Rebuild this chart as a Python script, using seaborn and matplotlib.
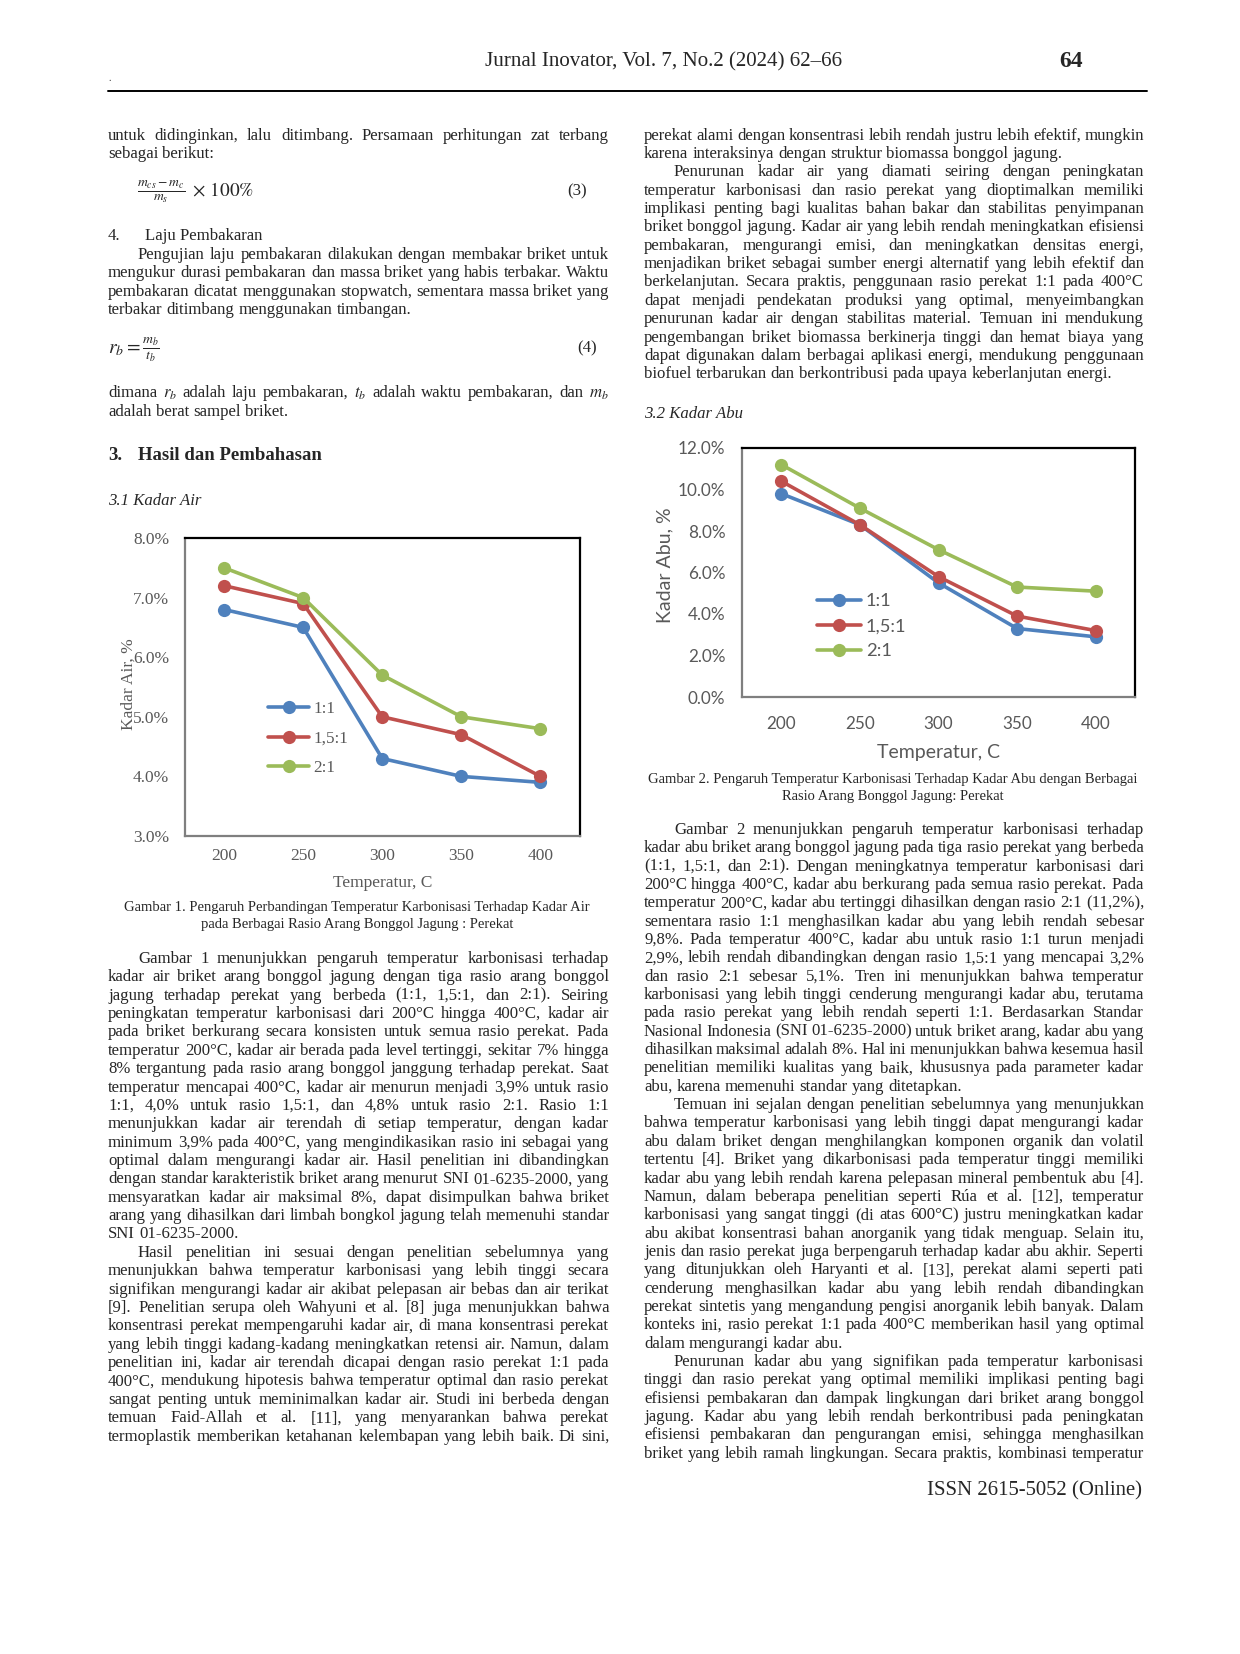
import matplotlib
matplotlib.use('Agg')
import matplotlib.pyplot as plt
from matplotlib.lines import Line2D
from matplotlib.ticker import FuncFormatter
import seaborn as sns
import pandas as pd

# DATA GRAFIK
suhu = ['200', '250', '300', '350', '400']
rasio = ['1:1', '1,5:1', '2:1']
air_1_1 = [6.8, 6.5, 4.3, 4.0, 3.9]
air_15_1 = [7.2, 6.9, 5.0, 4.7, 4.0]
air_2_1 = [7.5, 7.0, 5.7, 5.0, 4.8]
abu_1_1 = [9.8, 8.3, 5.5, 3.3, 2.9]
abu_15_1 = [10.4, 8.3, 5.8, 3.9, 3.2]
abu_2_1 = [11.2, 9.1, 7.1, 5.3, 5.1]
ticks_air = [3, 4, 5, 6, 7, 8]
ticks_abu = [0, 2, 4, 6, 8, 10, 12]
warna = ['#4F81BD', '#C0504D', '#9BBB59']

# TEKS HALAMAN
kiri_awal = ['untuk didinginkan, lalu ditimbang. Persamaan perhitungan zat terbang',
             'sebagai berikut:']
kiri_laju = ['Pengujian laju pembakaran dilakukan dengan membakar briket untuk',
             'mengukur durasi pembakaran dan massa briket yang habis terbakar. Waktu',
             'pembakaran dicatat menggunakan stopwatch, sementara massa briket yang',
             'terbakar ditimbang menggunakan timbangan.']
kiri_dimana = ['dimana $r_b$ adalah laju pembakaran, $t_b$ adalah waktu pembakaran, dan $m_b$',
               'adalah berat sampel briket.']
kiri_p1 = ['Gambar 1 menunjukkan pengaruh temperatur karbonisasi terhadap',
           'kadar air briket arang bonggol jagung dengan tiga rasio arang bonggol',
           'jagung terhadap perekat yang berbeda (1:1, 1,5:1, dan 2:1). Seiring',
           'peningkatan temperatur karbonisasi dari 200°C hingga 400°C, kadar air',
           'pada briket berkurang secara konsisten untuk semua rasio perekat. Pada',
           'temperatur 200°C, kadar air berada pada level tertinggi, sekitar 7% hingga',
           '8% tergantung pada rasio arang bonggol janggung terhadap perekat. Saat',
           'temperatur mencapai 400°C, kadar air menurun menjadi 3,9% untuk rasio',
           '1:1, 4,0% untuk rasio 1,5:1, dan 4,8% untuk rasio 2:1. Rasio 1:1',
           'menunjukkan kadar air terendah di setiap temperatur, dengan kadar',
           'minimum 3,9% pada 400°C, yang mengindikasikan rasio ini sebagai yang',
           'optimal dalam mengurangi kadar air. Hasil penelitian ini dibandingkan',
           'dengan standar karakteristik briket arang menurut SNI 01-6235-2000, yang',
           'mensyaratkan kadar air maksimal 8%, dapat disimpulkan bahwa briket',
           'arang yang dihasilkan dari limbah bongkol jagung telah memenuhi standar',
           'SNI 01-6235-2000.']
kiri_p2 = ['Hasil penelitian ini sesuai dengan penelitian sebelumnya yang',
           'menunjukkan bahwa temperatur karbonisasi yang lebih tinggi secara',
           'signifikan mengurangi kadar air akibat pelepasan air bebas dan air terikat',
           '[9]. Penelitian serupa oleh Wahyuni et al. [8] juga menunjukkan bahwa',
           'konsentrasi perekat mempengaruhi kadar air, di mana konsentrasi perekat',
           'yang lebih tinggi kadang-kadang meningkatkan retensi air. Namun, dalam',
           'penelitian ini, kadar air terendah dicapai dengan rasio perekat 1:1 pada',
           '400°C, mendukung hipotesis bahwa temperatur optimal dan rasio perekat',
           'sangat penting untuk meminimalkan kadar air. Studi ini berbeda dengan',
           'temuan Faid-Allah et al. [11], yang menyarankan bahwa perekat',
           'termoplastik memberikan ketahanan kelembapan yang lebih baik. Di sini,']
kanan_awal = ['perekat alami dengan konsentrasi lebih rendah justru lebih efektif, mungkin',
              'karena interaksinya dengan struktur biomassa bonggol jagung.']
kanan_p0 = ['Penurunan kadar air yang diamati seiring dengan peningkatan',
            'temperatur karbonisasi dan rasio perekat yang dioptimalkan memiliki',
            'implikasi penting bagi kualitas bahan bakar dan stabilitas penyimpanan',
            'briket bonggol jagung. Kadar air yang lebih rendah meningkatkan efisiensi',
            'pembakaran, mengurangi emisi, dan meningkatkan densitas energi,',
            'menjadikan briket sebagai sumber energi alternatif yang lebih efektif dan',
            'berkelanjutan. Secara praktis, penggunaan rasio perekat 1:1 pada 400°C',
            'dapat menjadi pendekatan produksi yang optimal, menyeimbangkan',
            'penurunan kadar air dengan stabilitas material. Temuan ini mendukung',
            'pengembangan briket biomassa berkinerja tinggi dan hemat biaya yang',
            'dapat digunakan dalam berbagai aplikasi energi, mendukung penggunaan',
            'biofuel terbarukan dan berkontribusi pada upaya keberlanjutan energi.']
kanan_p1 = ['Gambar 2 menunjukkan pengaruh temperatur karbonisasi terhadap',
            'kadar abu briket arang bonggol jagung pada tiga rasio perekat yang berbeda',
            '(1:1, 1,5:1, dan 2:1). Dengan meningkatnya temperatur karbonisasi dari',
            '200°C hingga 400°C, kadar abu berkurang pada semua rasio perekat. Pada',
            'temperatur 200°C, kadar abu tertinggi dihasilkan dengan rasio 2:1 (11,2%),',
            'sementara rasio 1:1 menghasilkan kadar abu yang lebih rendah sebesar',
            '9,8%. Pada temperatur 400°C, kadar abu untuk rasio 1:1 turun menjadi',
            '2,9%, lebih rendah dibandingkan dengan rasio 1,5:1 yang mencapai 3,2%',
            'dan rasio 2:1 sebesar 5,1%. Tren ini menunjukkan bahwa temperatur',
            'karbonisasi yang lebih tinggi cenderung mengurangi kadar abu, terutama',
            'pada rasio perekat yang lebih rendah seperti 1:1. Berdasarkan Standar',
            'Nasional Indonesia (SNI 01-6235-2000) untuk briket arang, kadar abu yang',
            'dihasilkan maksimal adalah 8%. Hal ini menunjukkan bahwa kesemua hasil',
            'penelitian memiliki kualitas yang baik, khususnya pada parameter kadar',
            'abu, karena memenuhi standar yang ditetapkan.']
kanan_p2 = ['Temuan ini sejalan dengan penelitian sebelumnya yang menunjukkan',
            'bahwa temperatur karbonisasi yang lebih tinggi dapat mengurangi kadar',
            'abu dalam briket dengan menghilangkan komponen organik dan volatil',
            'tertentu [4]. Briket yang dikarbonisasi pada temperatur tinggi memiliki',
            'kadar abu yang lebih rendah karena pelepasan mineral pembentuk abu [4].',
            'Namun, dalam beberapa penelitian seperti Rúa et al. [12], temperatur',
            'karbonisasi yang sangat tinggi (di atas 600°C) justru meningkatkan kadar',
            'abu akibat konsentrasi bahan anorganik yang tidak menguap. Selain itu,',
            'jenis dan rasio perekat juga berpengaruh terhadap kadar abu akhir. Seperti',
            'yang ditunjukkan oleh Haryanti et al. [13], perekat alami seperti pati',
            'cenderung menghasilkan kadar abu yang lebih rendah dibandingkan',
            'perekat sintetis yang mengandung pengisi anorganik lebih banyak. Dalam',
            'konteks ini, rasio perekat 1:1 pada 400°C memberikan hasil yang optimal',
            'dalam mengurangi kadar abu.']
kanan_p3 = ['Penurunan kadar abu yang signifikan pada temperatur karbonisasi',
            'tinggi dan rasio perekat yang optimal memiliki implikasi penting bagi',
            'efisiensi pembakaran dan dampak lingkungan dari briket arang bonggol',
            'jagung. Kadar abu yang lebih rendah berkontribusi pada peningkatan',
            'efisiensi pembakaran dan pengurangan emisi, sehingga menghasilkan',
            'briket yang lebih ramah lingkungan. Secara praktis, kombinasi temperatur']
caption1 = ['Gambar 1. Pengaruh Perbandingan Temperatur Karbonisasi Terhadap Kadar Air',
            'pada Berbagai Rasio Arang Bonggol Jagung : Perekat']
caption2 = ['Gambar 2. Pengaruh Temperatur Karbonisasi Terhadap Kadar Abu dengan Berbagai',
            'Rasio Arang Bonggol Jagung: Perekat']

SERIF = 'Liberation Serif'
SANS = 'Lato'
ABU = '#595959'

sns.set_style('white')
plt.rcParams['mathtext.fontset'] = 'stix'
plt.rcParams['font.family'] = SERIF

W, H = 1240, 1654
fig = plt.figure(figsize=(W / 100, H / 100), dpi=100)
fig.patch.set_facecolor('white')
renderer = fig.canvas.get_renderer()


def fx(x):
    return x / W


def fy(y):
    # posisi teks: sedikit koreksi vertikal terhadap halaman asli
    return 1 - (y * 1.0037 + 1) / H


def lebar(s, fs, family=SERIF, weight='normal'):
    t = fig.text(0, 0, s, fontsize=fs, family=family, weight=weight)
    w = t.get_window_extent(renderer).width
    t.remove()
    return w


def tulis(x, y, s, fs, ha='left', **kw):
    # y = tengah baris (piksel dari atas), digeser ke baseline
    off = 0.3 * fs * 100 / 72
    return fig.text(fx(x), fy(y + off), s, fontsize=fs, ha=ha, va='baseline', **kw)


def baris(x0, x1, y, line, fs, rata=True, indent=0):
    off = 0.3 * fs * 100 / 72
    kata = line.split()
    objs = [fig.text(0, fy(y + off), k, fontsize=fs, family=SERIF, va='baseline') for k in kata]
    lebar_kata = [o.get_window_extent(renderer).width for o in objs]
    mulai = x0 + indent
    if rata and len(kata) > 1:
        gap = (x1 - mulai - sum(lebar_kata)) / (len(kata) - 1)
    else:
        gap = fs * 0.25 * 100 / 72
    x = mulai
    for o, w in zip(objs, lebar_kata):
        o.set_x(fx(x))
        x += w + gap


def paragraf(x0, x1, y0, lines, fs, dy, indent=30, rata_akhir=False):
    for i, ln in enumerate(lines):
        akhir = i == len(lines) - 1
        baris(x0, x1, y0 + i * dy, ln, fs, rata=(not akhir) or rata_akhir,
              indent=indent if i == 0 else 0)


# UKURAN HURUF
KX0, KX1 = 108, 609
NX0, NX1 = 644, 1144
fs = 10 * (NX1 - NX0) / lebar('kadar abu yang lebih rendah karena pelepasan mineral pembentuk abu [4].', 10)
fs_cap = 10 * 470 / lebar(caption1[0], 10)
LS = 18.3

# HEADER
fs_head = 10 * 358 / lebar('Jurnal Inovator, Vol. 7, No.2 (2024) 62–66', 10)
tulis(664, 59, 'Jurnal Inovator, Vol. 7, No.2 (2024) 62–66', fs_head, ha='center', family=SERIF)
tulis(1071, 59, '64', 17, ha='center', family=SERIF, weight='bold')
tulis(108, 77, '.', 7, family=SERIF)
fig.add_artist(Line2D([fx(108), fx(1147)], [fy(90), fy(90)], transform=fig.transFigure,
                      color='black', lw=1.4))

# KOLOM KIRI
paragraf(KX0, KX1, 133, kiri_awal, fs, LS, indent=0)
tulis(137, 189, r'$\frac{m_{cs}-m_c}{m_s}\;\times\,100\%$', fs * 1.16, family=SERIF)
tulis(577, 189, '(3)', fs, ha='center', family=SERIF)
tulis(108, 233, '4.', fs, family=SERIF)
tulis(145, 233, 'Laju Pembakaran', fs, family=SERIF)
paragraf(KX0, KX1, 252, kiri_laju, fs, LS)
tulis(108, 345, r'$r_b=\frac{m_b}{t_b}$', fs * 1.17, family=SERIF)
tulis(587, 345, '(4)', fs, ha='center', family=SERIF)
paragraf(KX0, KX1, 390, kiri_dimana, fs, LS, indent=0)
tulis(108, 452, '3.', fs * 1.12, family=SERIF, weight='bold')
tulis(138, 452, 'Hasil dan Pembahasan', fs * 1.12, family=SERIF, weight='bold')
tulis(108, 497, '3.1 Kadar Air', fs, family=SERIF, style='italic')
for i, c in enumerate(caption1):
    tulis(357, 902 + i * 17, c, fs_cap, ha='center', family=SERIF)
paragraf(KX0, KX1, 953.4, kiri_p1, fs, LS)
paragraf(KX0, KX1, 953.4 + len(kiri_p1) * LS, kiri_p2, fs, LS, rata_akhir=True)

# KOLOM KANAN
paragraf(NX0, NX1, 133, kanan_awal, fs, LS, indent=0)
paragraf(NX0, NX1, 133 + 2 * LS, kanan_p0, fs, LS)
tulis(644, 410, '3.2 Kadar Abu', fs, family=SERIF, style='italic')
for i, c in enumerate(caption2):
    tulis(893, 775 + i * 17, c, fs_cap, ha='center', family=SERIF)
LS2 = 18.27
paragraf(NX0, NX1, 825, kanan_p1, fs, LS2)
paragraf(NX0, NX1, 825 + 15 * LS2, kanan_p2, fs, LS2)
paragraf(NX0, NX1, 825 + 29 * LS2, kanan_p3, fs, LS2, rata_akhir=True)

fs_issn = 10 * 216 / lebar('ISSN 2615-5052 (Online)', 10)
tulis(1142, 1483, 'ISSN 2615-5052 (Online)', fs_issn, ha='right', family=SERIF)


# GRAFIK
def grafik(kotak, nilai, ticks, fam, fs_tick, fs_lab, fs_leg, ylabel,
           pad_x, pad_y, pos_xlab, pos_ylab, pos_leg, spasi_leg):
    x0, x1, y0, y1 = kotak
    ax = fig.add_axes([x0 / W, 1 - y1 / H, (x1 - x0) / W, (y1 - y0) / H])
    df = pd.DataFrame({'Temperatur': suhu * len(rasio),
                       'Kadar': [v for seri in nilai for v in seri],
                       'Rasio': [r for r in rasio for _ in suhu]})
    sns.lineplot(data=df, x='Temperatur', y='Kadar', hue='Rasio', hue_order=rasio,
                 palette=warna, marker='o', markersize=9.5, markeredgewidth=0,
                 linewidth=2.6, sort=False, errorbar=None, legend=False, ax=ax)
    ax.set_xlim(-0.5, len(suhu) - 0.5)
    ax.set_ylim(ticks[0], ticks[-1])
    ax.set_yticks(ticks)
    ax.yaxis.set_major_formatter(FuncFormatter(lambda v, p: f'{v:.1f}%'))
    ax.set_facecolor('white')
    ax.grid(False)
    for s in ['top', 'right']:
        ax.spines[s].set_color('black')
        ax.spines[s].set_linewidth(1.6)
    for s in ['left', 'bottom']:
        ax.spines[s].set_color('#7f7f7f')
        ax.spines[s].set_linewidth(1.6)
    ax.tick_params(axis='x', length=0, pad=pad_x, labelsize=fs_tick, labelcolor=ABU)
    ax.tick_params(axis='y', length=0, pad=pad_y, labelsize=fs_tick, labelcolor=ABU)
    ax.set_xlabel('Temperatur, C', fontsize=fs_lab, color=ABU, family=fam)
    ax.set_ylabel(ylabel, fontsize=fs_lab, color=ABU, family=fam)
    ax.xaxis.label.set_va('center')
    ax.yaxis.label.set_va('center')
    ax.xaxis.set_label_coords(*pos_xlab)
    ax.yaxis.set_label_coords(*pos_ylab)
    leg = ax.legend(ax.lines[:len(rasio)], rasio, loc='center left', bbox_to_anchor=pos_leg,
                    frameon=False, borderpad=0, borderaxespad=0, handlelength=2.4,
                    handletextpad=0.25, labelspacing=spasi_leg,
                    prop={'family': fam, 'size': fs_leg})
    for t in leg.get_texts():
        t.set_color(ABU)
    return ax


ax1 = grafik((184.5, 580, 538, 836), [air_1_1, air_15_1, air_2_1], ticks_air, SERIF,
             12.5, 12.5, 12.3, 'Kadar Air, %', 8.5, 11,
             (0.502, -0.159), (-0.141, 0.508), (0.212, 0.326), 0.79)
ax2 = grafik((742, 1135, 448, 697), [abu_1_1, abu_15_1, abu_2_1], ticks_abu, SANS,
             12.3, 14, 13.2, 'Kadar Abu, %', 13.9, 12,
             (0.5, -0.222), (-0.195, 0.53), (0.192, 0.284), 0.49)

# FONT LABEL TICK (setelah tick dibuat saat draw)
fig.canvas.draw()
for ax, fam in [(ax1, SERIF), (ax2, SANS)]:
    for lbl in ax.xaxis.get_majorticklabels() + ax.yaxis.get_majorticklabels():
        lbl.set_fontfamily(fam)

fig.savefig('out.png', dpi=100, facecolor='white')
